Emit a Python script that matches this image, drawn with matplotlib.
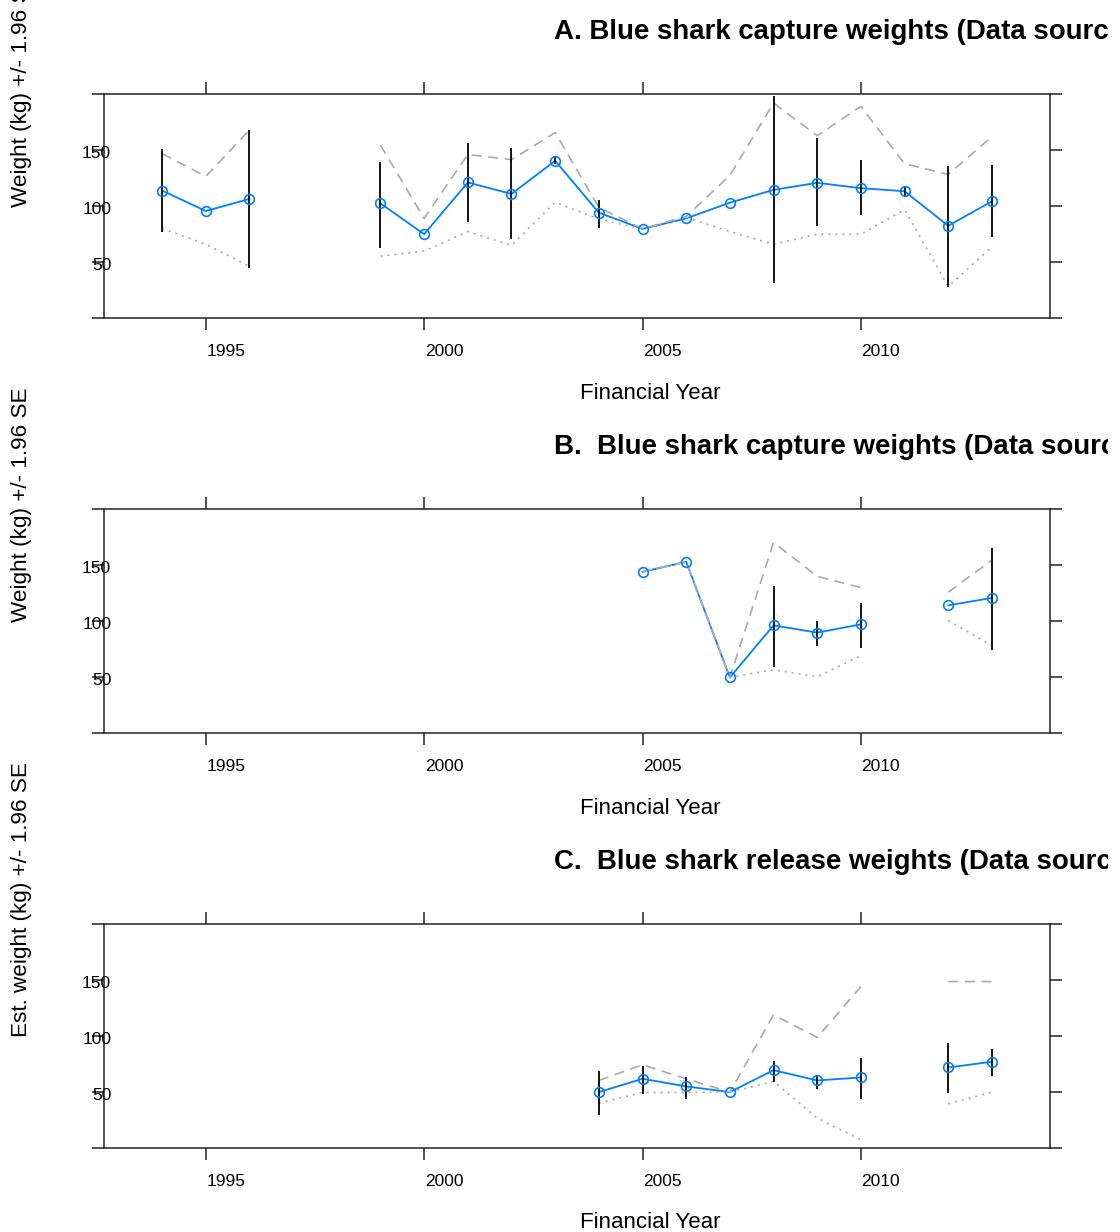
import numpy as np
import matplotlib.pyplot as plt
from matplotlib.transforms import ScaledTranslation, Bbox

plt.rcParams['font.family'] = ['Liberation Sans', 'DejaVu Sans']

# Financial years covered by every panel
years = np.arange(1994, 2014)
nan = np.nan

# Panel A - capture weights (mean, error bar limits, dashed upper, dotted lower)
a_mean = [113.8, 95.5, 106.3, nan, nan, 102.4, 74.8, 121.0, 110.8, 140.4,
          94.0, 79.6, 88.9, 103.0, 114.4, 120.7, 115.9, 113.2, 82.3, 104.2]
a_err_hi = [150.7, nan, 167.8, nan, nan, 139.4, nan, 156.5, 152.2, 143.8,
            105.7, nan, nan, nan, 197.9, 160.4, 140.8, 118.3, 135.7, 136.9]
a_err_lo = [76.8, nan, 44.8, nan, nan, 62.8, nan, 85.9, 70.3, 137.8,
            80.8, nan, nan, nan, 31.2, 82.3, 92.2, 109.3, 27.6, 72.7]
a_upper = [146.8, 126.4, 167.8, nan, nan, 154.3, 88.9, 146.0, 141.4, 165.5,
           98.8, 79.6, 90.7, 127.3, 191.9, 162.8, 188.9, 137.8, 128.2, 161.9]
a_lower = [79.9, 65.8, 46.2, nan, nan, 55.2, 59.7, 77.2, 64.9, 103.3,
           88.3, 79.6, 89.8, 77.2, 65.8, 74.8, 74.8, 96.7, 28.2, 63.4]

# Panel B - capture weights, second source
b_mean = [nan] * 11 + [143.9, 152.8, 49.6, 96.1, 89.6, 97.0, nan, 114.0, 120.6]
b_err_hi = [nan] * 14 + [131.2, 100.4, 116.0, nan, nan, 165.3]
b_err_lo = [nan] * 14 + [58.6, 78.0, 75.6, nan, nan, 74.2]
b_upper = [nan] * 11 + [143.9, 152.8, 49.6, 170.1, 139.9, 129.8, nan, 125.8, 154.3]
b_lower = [nan] * 11 + [143.9, 152.8, 49.6, 56.5, 50.2, 69.1, nan, 100.4, 78.0]

# Panel C - release weights
c_mean = [nan] * 10 + [49.9, 61.8, 55.0, 49.9, 69.5, 60.3, 63.0, nan, 71.9, 77.0]
c_err_hi = [nan] * 10 + [68.8, 73.5, 63.7, nan, 78.0, 64.6, 80.7, nan, 93.5, 88.4]
c_err_lo = [nan] * 10 + [29.5, 47.9, 43.8, nan, 59.2, 52.7, 43.8, nan, 48.8, 64.3]
c_upper = [nan] * 10 + [60.3, 74.3, 61.8, 49.9, 118.9, 98.7, 144.1, nan, 148.6, 148.6]
c_lower = [nan] * 10 + [40.1, 49.6, 49.6, 49.9, 59.4, 26.7, 7.4, nan, 39.5, 49.9]

titles = ['A. Blue shark capture weights (Data source)',
          'B.  Blue shark capture weights (Data source)',
          'C.  Blue shark release weights (Data source)']
ylabels = ['Weight (kg) +/- 1.96 SE',
           'Weight (kg) +/- 1.96 SE',
           'Est. weight (kg) +/- 1.96 SE']
xticks = [1995, 2000, 2005, 2010]
yticks = [0, 50, 100, 150, 200]
ytick_labels = ['', '50', '100', '150', '']

panels = [(a_mean, a_err_lo, a_err_hi, a_upper, a_lower),
          (b_mean, b_err_lo, b_err_hi, b_upper, b_lower),
          (c_mean, c_err_lo, c_err_hi, c_upper, c_lower)]

W, H = 1120, 1232
fig = plt.figure(figsize=(W / 100, H / 100), dpi=100)
box_tops = [94, 509, 924]
box_h = 224
left, right = 104, 1050
# titles run past the drawing region on the right
title_clip = Bbox.from_extents(0, 0, 1108, H)

for top, title, ylab, (mean, lo, hi, up, low) in zip(box_tops, titles, ylabels, panels):
    ax = fig.add_axes([left / W, 1 - (top + box_h) / H, (right - left) / W, box_h / H])
    mean = np.array(mean); lo = np.array(lo); hi = np.array(hi)

    ax.plot(years, mean, color='#0080ff', lw=1.3, zorder=2)
    ax.plot(years, up, color='#aaaaaa', lw=1.2, ls=(0, (6, 4)), zorder=3)
    ax.plot(years, low, color='#aaaaaa', lw=1.2, ls=(0, (1.2, 3)), zorder=3)
    ok = ~np.isnan(hi)
    ax.vlines(years[ok], lo[ok], hi[ok], color='black', lw=1.3, zorder=4)
    ax.plot(years, mean, 'o', ms=7, mfc='none', mec='#0080ff', mew=1.2, zorder=5)

    ax.set_xlim(1992.67, 2014.33)
    ax.set_ylim(0, 200)
    ax.set_xticks(xticks)
    ax.set_yticks(yticks)
    ax.set_yticklabels(ytick_labels)
    ax.tick_params(axis='both', direction='out', length=8.5, width=1.1,
                   color='#222222', labelsize=12.5,
                   top=True, right=True, labeltop=False, labelright=False)
    ax.tick_params(axis='x', pad=10.5)
    ax.tick_params(axis='y', pad=-13.7)
    for lab in ax.get_xticklabels():
        lab.set_transform(lab.get_transform() + ScaledTranslation(0.2, 0, fig.dpi_scale_trans))
    for lab in ax.get_yticklabels():
        lab.set_transform(lab.get_transform() + ScaledTranslation(0, -0.02, fig.dpi_scale_trans))
    for sp in ax.spines.values():
        sp.set_color('#222222')
        sp.set_linewidth(1.1)

    t = fig.text(554 / W, 1 - (top - 62) / H, title, fontsize=19.9, fontweight='bold',
                 ha='left', va='center')
    t.set_clip_box(title_clip)
    t.set_clip_on(True)
    fig.text(650 / W, 1 - (top + box_h + 75) / H, 'Financial Year', fontsize=16,
             ha='center', va='center')
    fig.text(22 / W, 1 - (top + box_h / 2 + 1) / H, ylab, fontsize=16.2, rotation=90,
             ha='center', va='bottom')

fig.savefig('out.png', dpi=100)
